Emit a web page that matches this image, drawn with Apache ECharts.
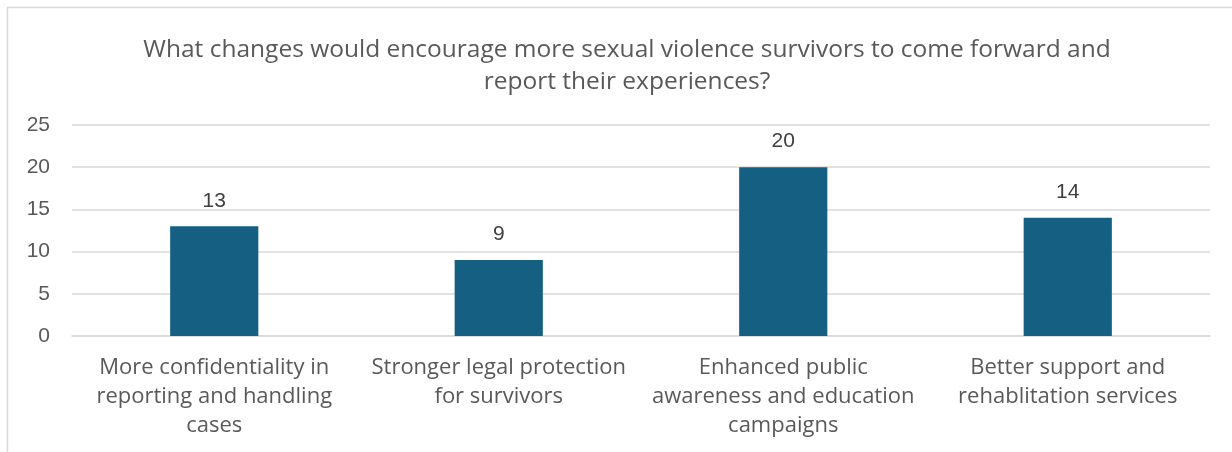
<!DOCTYPE html>
<html>
<head>
<meta charset="utf-8">
<script src="https://cdn.jsdelivr.net/npm/echarts@6/dist/echarts.min.js"></script>
<style>
  html, body { margin: 0; padding: 0; background: #ffffff; }
  #chart { width: 1232px; height: 452px; }
</style>
</head>
<body>
<div id="chart"></div>
<script>
// Survey responses: changes that would encourage reporting
const titleText = 'What changes would encourage more sexual violence survivors to come forward and\nreport their experiences?';
const categories = [
  'More confidentiality in\nreporting and handling\ncases',
  'Stronger legal protection\nfor survivors',
  'Enhanced public\nawareness and education\ncampaigns',
  'Better support and\nrehablitation services'
];
const responses = [13, 9, 20, 14];
const yTicks = [0, 5, 10, 15, 20, 25];

const TEXT_FONT = '"Open Sans", "Noto Sans", sans-serif';
const NUM_FONT = '"Liberation Sans", Arial, sans-serif';

const chart = echarts.init(document.getElementById('chart'), null, { renderer: 'canvas' });
chart.setOption({
  animation: false,
  backgroundColor: '#ffffff',
  graphic: [
    {
      type: 'rect',
      shape: { x: 7.5, y: 7.5, width: 1240, height: 460 },
      style: { fill: 'none', stroke: '#d9d9d9', lineWidth: 1.5 },
      silent: true
    }
  ],
  title: {
    text: titleText,
    left: 622,
    textAlign: 'center',
    top: 29,
    textStyle: {
      fontFamily: TEXT_FONT,
      fontSize: 24.5,
      fontWeight: 'normal',
      color: '#595959',
      lineHeight: 32
    }
  },
  grid: { left: 72, right: 22, top: 125, bottom: 116 },
  xAxis: {
    type: 'category',
    data: categories,
    axisLine: { show: true, lineStyle: { color: '#d9d9d9', width: 1.5 } },
    axisTick: { show: false },
    axisLabel: {
      interval: 0,
      margin: 17,
      fontFamily: TEXT_FONT,
      fontSize: 22,
      color: '#595959',
      lineHeight: 29,
      align: 'center'
    }
  },
  yAxis: {
    type: 'value',
    min: yTicks[0],
    max: yTicks[yTicks.length - 1],
    interval: 5,
    axisLine: { show: false },
    axisTick: { show: false },
    splitLine: { lineStyle: { color: '#d9d9d9', width: 1.5 } },
    axisLabel: {
      margin: 22,
      fontFamily: NUM_FONT,
      fontSize: 21,
      color: '#595959'
    }
  },
  series: [
    {
      type: 'bar',
      data: responses,
      barWidth: '31%',
      itemStyle: { color: '#156082' },
      label: {
        show: true,
        position: 'top',
        distance: 15,
        fontFamily: NUM_FONT,
        fontSize: 21,
        color: '#404040'
      }
    }
  ]
});
</script>
</body>
</html>
